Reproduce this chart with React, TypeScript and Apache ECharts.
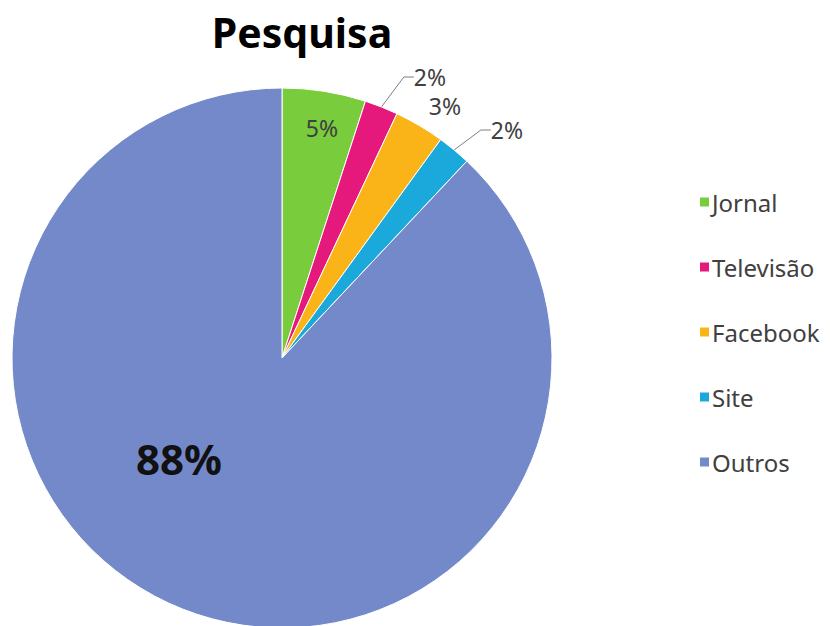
import React, { useEffect, useRef } from "react";
import * as echarts from "echarts";

const categories = ["Jornal", "Televisão", "Facebook", "Site", "Outros"];
const values = [5, 2, 3, 2, 88];
const colors = ["#79cc3b", "#e5197b", "#fbb417", "#1ba9dc", "#7489c9"];
const titleText = "Pesquisa";

export default function App() {
  const ref = useRef<HTMLDivElement>(null);
  useEffect(() => {
    if (!ref.current) return;
    const chart = echarts.init(ref.current, null, { renderer: "svg" });
    const font = "'Noto Sans', 'DejaVu Sans', sans-serif";
    const labelCfg: any[] = [
      { position: "inside", fontSize: 23, color: "#404040" },
      { position: "outside", fontSize: 23, color: "#404040" },
      { position: "outside", fontSize: 23, color: "#404040" },
      { position: "outside", fontSize: 23, color: "#404040" },
      { position: "inside", fontSize: 42, fontWeight: "bold", color: "#111111" },
    ];
    const lineCfg = [false, true, false, true, false];
    const labelPos: Record<number, { x: number; y: number }> = {
      0: { x: 322, y: 128 },
      1: { x: 430, y: 77 },
      2: { x: 445, y: 106 },
      3: { x: 507, y: 130 },
      4: { x: 179, y: 458 },
    };
    chart.setOption({
      animation: false,
      title: {
        text: titleText,
        left: 297,
        top: 6,
        textAlign: "center",
        textStyle: { fontFamily: font, fontSize: 41, fontWeight: "bold", color: "#000" },
      },
      legend: {
        orient: "vertical",
        left: 693,
        top: 185,
        itemGap: 41,
        itemWidth: 11,
        itemHeight: 11,
        icon: "rect",
        data: categories,
        textStyle: { fontFamily: font, fontSize: 24, color: "#404040", padding: [0, 0, 0, -3] },
      },
      series: [
        {
          type: "pie",
          center: [282, 358],
          radius: [0, 270],
          startAngle: 90,
          clockwise: true,
          avoidLabelOverlap: false,
          itemStyle: { borderColor: "#ffffff", borderWidth: 1 },
          label: { fontFamily: font, formatter: "{d}%" },
          labelLine: { lineStyle: { color: "#7f7f7f", width: 1 }, length: 12, length2: 10 },
          labelLayout: (p: any) => {
            const pos = labelPos[p.dataIndex];
            return pos ? { x: pos.x, y: pos.y, align: "center", verticalAlign: "middle" } : {};
          },
          data: categories.map((name, i) => ({
            name,
            value: values[i],
            itemStyle: { color: colors[i] },
            label: { ...labelCfg[i], fontFamily: font },
            labelLine: { show: lineCfg[i] },
          })),
        },
      ],
    });
    return () => chart.dispose();
  }, []);
  return <div ref={ref} style={{ width: 830, height: 626, position: "absolute", left: 0, top: 0 }} />;
}
